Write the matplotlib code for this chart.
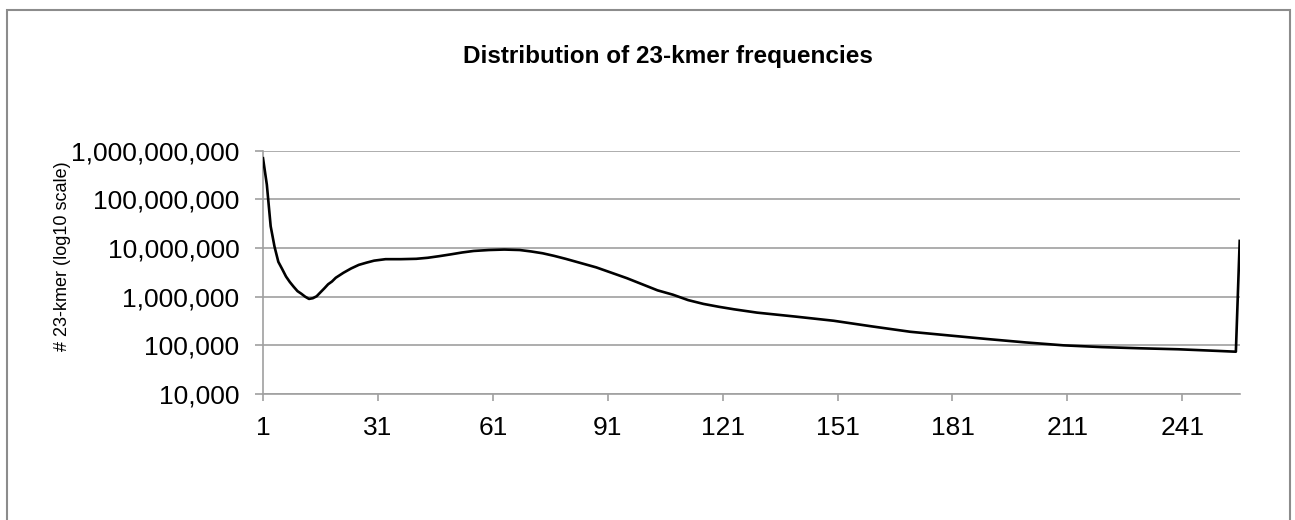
import numpy as np
import matplotlib
matplotlib.use('Agg')
import matplotlib.pyplot as plt
from matplotlib.ticker import FuncFormatter, FixedLocator, NullLocator

plt.rcParams['font.family'] = ['Liberation Sans', 'DejaVu Sans']

# k-mer multiplicity (category) and number of distinct 23-mers seen at it
kmer_freq = [1, 2, 3, 4, 5, 6, 7, 8, 9, 10, 11, 12, 13, 14, 15, 16, 17, 18,
             19, 20, 22, 24, 26, 28, 30, 33, 37, 41, 44, 47, 50, 53, 56, 60,
             64, 68, 71, 74, 77, 80, 84, 88, 92, 96, 100, 104, 108, 112, 116,
             120, 124, 130, 140, 150, 160, 170, 180, 190, 200, 210, 220, 230,
             240, 250, 255, 256]
kmer_count = [7.0e8, 2.0e8, 2.8e7, 1.07e7, 5.2e6, 3.7e6, 2.6e6, 2.0e6, 1.6e6,
              1.3e6, 1.15e6, 1.0e6, 9.0e5, 9.3e5, 1.02e6, 1.23e6, 1.48e6,
              1.8e6, 2.05e6, 2.45e6, 3.1e6, 3.8e6, 4.5e6, 5.0e6, 5.5e6, 5.9e6,
              5.9e6, 6.0e6, 6.3e6, 6.8e6, 7.4e6, 8.1e6, 8.7e6, 9.1e6, 9.3e6,
              9.1e6, 8.5e6, 7.8e6, 6.9e6, 6.0e6, 4.9e6, 4.0e6, 3.1e6, 2.4e6,
              1.8e6, 1.35e6, 1.1e6, 8.5e5, 7.1e5, 6.2e5, 5.5e5, 4.7e5, 3.9e5,
              3.2e5, 2.45e5, 1.9e5, 1.6e5, 1.35e5, 1.15e5, 1.0e5, 9.2e4,
              8.7e4, 8.3e4, 7.7e4, 7.4e4, 1.4e7]

x_ticks = [1, 31, 61, 91, 121, 151, 181, 211, 241]
y_ticks = [1e4, 1e5, 1e6, 1e7, 1e8, 1e9]

grey = '#a0a0a0'

fig = plt.figure(figsize=(12.95, 5.2), dpi=100)
ax = fig.add_axes([0.2031, 0.2423, 0.7542, 0.4679])

ax.plot(kmer_freq, kmer_count, color='black', linewidth=1.9,
        solid_joinstyle='round', zorder=3)

ax.set_yscale('log')
ax.set_ylim(1e4, 1e9)
ax.set_xlim(1, 256)
ax.yaxis.set_major_locator(FixedLocator(y_ticks))
ax.yaxis.set_minor_locator(NullLocator())
ax.yaxis.set_major_formatter(FuncFormatter(lambda v, p: f'{int(round(v)):,}'))
ax.xaxis.set_major_locator(FixedLocator(x_ticks))

ax.grid(True, axis='y', color=grey, linewidth=1.2)
ax.set_axisbelow(True)
for side in ['top', 'right']:
    ax.spines[side].set_visible(False)
for side in ['left', 'bottom']:
    ax.spines[side].set_color(grey)
    ax.spines[side].set_linewidth(1.2)

ax.tick_params(axis='y', direction='out', length=6, width=1.2, color=grey,
               pad=11, labelsize=19)
ax.tick_params(axis='x', direction='out', length=5, width=1.2, color=grey,
               pad=11, labelsize=19)

fig.text(0.5155, 0.891, 'Distribution of 23-kmer frequencies',
         ha='center', va='center', fontsize=17.5, fontweight='bold')
fig.text(0.048, 0.508, '# 23-kmer (log10 scale)', rotation=90,
         ha='center', va='center', fontsize=13)

# chart frame
frame = plt.Rectangle((7 / 1295, -0.01), 1283 / 1295, 1 - 10 / 520 + 0.01,
                      transform=fig.transFigure, fill=False,
                      edgecolor='#8c8c8c', linewidth=1.5)
fig.add_artist(frame)

fig.savefig('out.png', dpi=100)
